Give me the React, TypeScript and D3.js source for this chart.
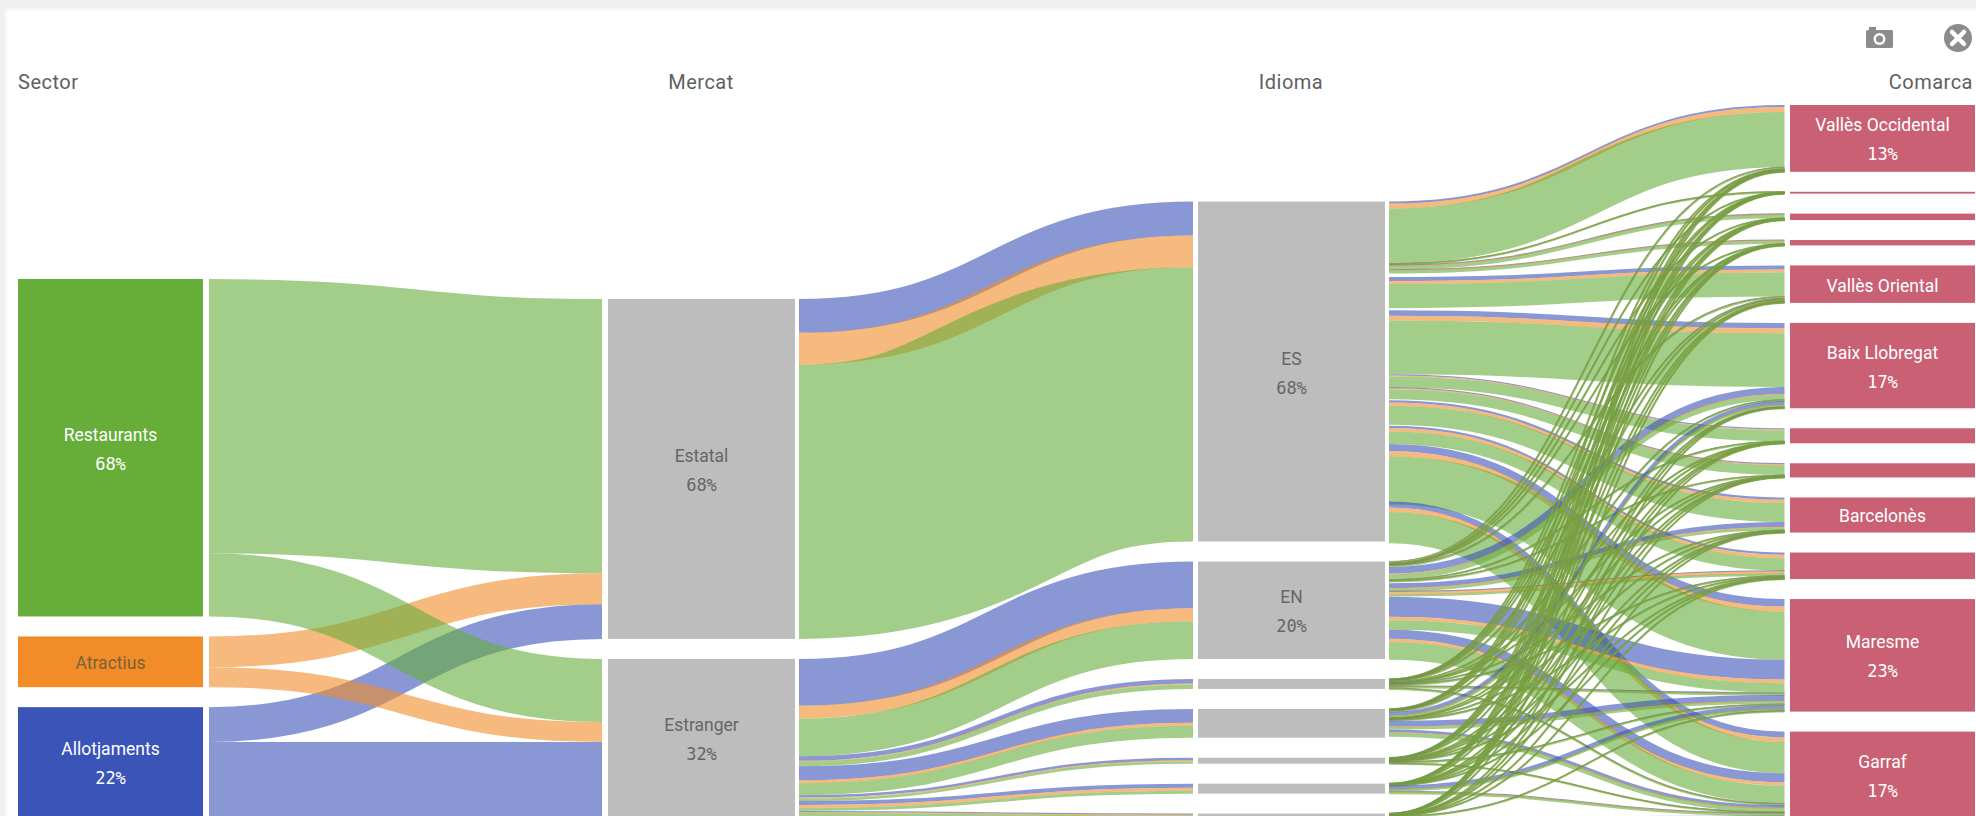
import React from "react";
import * as d3 from "d3";

// ---------- data (shares in % of the total) ----------
const sectors = ["Restaurants", "Atractius", "Allotjaments"];
const sectorPct = ["68%", "", "22%"];
const sectorToEstatal = [55.2, 6.2, 7.0];
const sectorToEstranger = [12.7, 4.0, 15.0];

const markets = ["Estatal", "Estranger"];
const marketPct = ["68%", "32%"];

const languages = ["ES", "EN", "", "", "", "", ""];
const languagePct = ["68%", "20%", "", "", "", "", ""];
const languageMarket = [0, 1, 1, 1, 1, 1, 1];
const langAllotjaments = [6.8, 9.4, 0.9, 2.8, 0.5, 0.8, 0.2];
const langAtractius = [6.4, 2.6, 0.2, 0.6, 0.2, 0.6, 0.2];
const langRestaurants = [55.2, 7.6, 0.9, 2.4, 0.5, 0.6, 0.6];

const comarques = ["Vallès Occidental", "", "", "", "Vallès Oriental", "Baix Llobregat", "", "", "Barcelonès", "", "Maresme", "Garraf"];
const comarcaPct = ["13%", "", "", "", "", "17%", "", "", "", "", "23%", "17%"];

// language -> comarca, one array per sector
const esAllotjaments = [0.4, 0.02, 0.1, 0.06, 0.8, 1.1, 0.24, 0.16, 0.46, 0.44, 1.5, 1.2];
const esAtractius = [1, 0.02, 0.1, 0.14, 0.6, 1, 0.2, 0.24, 0.66, 0.7, 1, 0.9];
const esRestaurants = [11.1, 0.1, 0.74, 0.6, 4.86, 10.8, 2.18, 1.98, 3.84, 2.5, 9.7, 6.3];

const enAllotjaments = [0.06, 0.02, 0.02, 0.02, 0.04, 1.4, 0.04, 0.04, 1, 0.06, 4, 1.8];
const enAtractius = [0.04, 0.02, 0.02, 0.02, 0.04, 0.16, 0.04, 0.04, 0.14, 0.6, 0.74, 0.66];
const enRestaurants = [0.3, 0.02, 0.08, 0.08, 0.3, 1, 0.12, 0.12, 0.5, 0.34, 1.9, 3.6];

const l3Allotjaments = [0.04, 0.01, 0.02, 0.01, 0.08, 0.08, 0.01, 0.02, 0.04, 0.06, 0.16, 0.08];
const l3Atractius = [0.02, 0.01, 0.01, 0.01, 0.04, 0.04, 0.01, 0.02, 0.02, 0.06, 0.08, 0.06];
const l3Restaurants = [0.1, 0.01, 0.05, 0.01, 0.14, 0.12, 0.02, 0.04, 0.08, 0.12, 0.24, 0.18];

const l4Allotjaments = [0.04, 0.01, 0.01, 0.01, 0.06, 0.8, 0.01, 0.02, 0.04, 0.04, 1.2, 0.6];
const l4Atractius = [0.02, 0.01, 0.01, 0.01, 0.04, 0.04, 0.01, 0.02, 0.02, 0.06, 0.06, 0.06];
const l4Restaurants = [0.1, 0.02, 0.04, 0.02, 0.22, 0.4, 0.04, 0.04, 0.1, 0.1, 0.5, 0.8];

const l5Allotjaments = [0.02, 0.01, 0.01, 0.01, 0.04, 0.02, 0.01, 0.01, 0.02, 0.04, 0.1, 0.02];
const l5Atractius = [0.02, 0.01, 0.01, 0.01, 0.02, 0.02, 0.01, 0.01, 0.02, 0.04, 0.04, 0.02];
const l5Restaurants = [0.08, 0.01, 0.02, 0.01, 0.12, 0.06, 0.02, 0.02, 0.04, 0.06, 0.16, 0.08];

const l6Allotjaments = [0.01, 0.01, 0.01, 0.01, 0.01, 0.01, 0.01, 0.01, 0.01, 0.01, 0.8, 0.14];
const l6Atractius = [0.01, 0.01, 0.01, 0.01, 0.01, 0.01, 0.01, 0.01, 0.01, 0.01, 0.06, 0.1];
const l6Restaurants = [0.02, 0.01, 0.01, 0.01, 0.02, 0.02, 0.01, 0.01, 0.02, 0.02, 0.24, 0.36];

const l7Allotjaments = [0.01, 0.01, 0.01, 0.01, 0.02, 0.02, 0.01, 0.01, 0.01, 0.02, 0.04, 0.1];
const l7Atractius = [0.01, 0.01, 0.01, 0.01, 0.02, 0.02, 0.01, 0.01, 0.01, 0.02, 0.04, 0.1];
const l7Restaurants = [0.04, 0.01, 0.01, 0.01, 0.06, 0.06, 0.01, 0.02, 0.02, 0.04, 0.08, 0.2];

// table built from the arrays: [language][sector][comarca], sector order Allotjaments, Atractius, Restaurants
const flows = [
  [esAllotjaments, esAtractius, esRestaurants],
  [enAllotjaments, enAtractius, enRestaurants],
  [l3Allotjaments, l3Atractius, l3Restaurants],
  [l4Allotjaments, l4Atractius, l4Restaurants],
  [l5Allotjaments, l5Atractius, l5Restaurants],
  [l6Allotjaments, l6Atractius, l6Restaurants],
  [l7Allotjaments, l7Atractius, l7Restaurants],
];

// ---------- layout ----------
const W = 1976, H = 816;
const GAP = 20;
const LINK_OPACITY = 0.6;
const h = d3.scaleLinear().domain([0, 100]).range([0, 497]);

const colX = [[18, 203], [608, 795], [1198, 1385], [1790, 1975]];
const linkX = [[209, 602], [799, 1193], [1389, 1784.5]];
const colTop = [279, 299, 201.6, 105];
// small white gaps seen on the left edge of the language -> comarca band, per comarca
const leftPadEs = [0, 0, 0.5, 0, 3.5, 2, 0, 0, 1, 1, 0, -3];
const leftPadEn = [0, 0, 0, 0, 0, 0, 0, 0, 1.5, 0, 0.5, 0];

const BLUE = "#3A54B7", ORANGE = "#F28C28", GREEN = "#66AD3A", GREY = "#BDBDBD", PINK = "#C96074";
const sectorColor = [GREEN, ORANGE, BLUE];
const layerColor = [BLUE, ORANGE, GREEN]; // sublayer order inside a flow
const minStroke = new Map([[BLUE, 1.2], [ORANGE, 1.2], [GREEN, 2.3]]);

type Node = { y: number; h: number; name: string; pct: string };
function stack(sizes: number[], top: number, names: string[], pcts: string[]): Node[] {
  let y = top;
  return sizes.map((v, i) => {
    const n = { y, h: h(v), name: names[i], pct: pcts[i] };
    y += h(v) + GAP;
    return n;
  });
}

const sectorSizes = sectors.map((_, i) => sectorToEstatal[i] + sectorToEstranger[i]);
const marketSizes = [d3.sum(sectorToEstatal), d3.sum(sectorToEstranger)];
const languageSizes = languages.map((_, i) => langAllotjaments[i] + langAtractius[i] + langRestaurants[i]);
const comarcaSizes = comarques.map((_, c) => d3.sum(flows, (f) => f[0][c] + f[1][c] + f[2][c]));

const sectorNodes = stack(sectorSizes, colTop[0], sectors, sectorPct);
const marketNodes = stack(marketSizes, colTop[1], markets, marketPct);
const languageNodes = stack(languageSizes, colTop[2], languages, languagePct);
const comarcaNodes = stack(comarcaSizes, colTop[3], comarques, comarcaPct);

type Link = { x0: number; x1: number; y0: number; y1: number; w: number; color: string };
const links: Link[] = [];

// sector -> market
{
  const left = sectorNodes.map((n) => n.y);
  const right = marketNodes.map((n) => n.y);
  [sectorToEstatal, sectorToEstranger].forEach((vals, m) => {
    vals.forEach((v, s) => {
      const w = h(v);
      links.push({ x0: linkX[0][0], x1: linkX[0][1], y0: left[s], y1: right[m], w, color: sectorColor[s] });
      left[s] += w;
      right[m] += w;
    });
  });
}
// market -> language
{
  const left = marketNodes.map((n) => n.y);
  languages.forEach((_, l) => {
    let r = languageNodes[l].y;
    const m = languageMarket[l];
    [langAllotjaments, langAtractius, langRestaurants].forEach((arr, k) => {
      const w = h(arr[l]);
      links.push({ x0: linkX[1][0], x1: linkX[1][1], y0: left[m], y1: r, w, color: layerColor[k] });
      left[m] += w;
      r += w;
    });
  });
}
// language -> comarca
{
  const right = comarcaNodes.map((n) => n.y);
  flows.forEach((f, l) => {
    let left = languageNodes[l].y;
    comarques.forEach((_, c) => {
      if (l === 0) left += leftPadEs[c];
      if (l === 1) left += leftPadEn[c];
      [0, 1, 2].forEach((k) => {
        const w = h(f[k][c]);
        links.push({ x0: linkX[2][0], x1: linkX[2][1], y0: left, y1: right[c], w, color: layerColor[k] });
        left += w;
        right[c] += w;
      });
    });
  });
}

const thread = d3.linkHorizontal<{ source: [number, number]; target: [number, number] }, [number, number]>();

function NodeColumn({ nodes, col, fill, nameColor, pctColor }: { nodes: Node[]; col: number; fill: (i: number) => string; nameColor: (i: number) => string; pctColor: (i: number) => string }) {
  const [x0, x1] = colX[col];
  const cx = (x0 + x1) / 2;
  return (
    <g>
      {nodes.map((n, i) => {
        const cy = n.y + n.h / 2;
        return (
          <g key={i}>
            <rect x={x0} y={n.y} width={x1 - x0} height={n.h} fill={fill(i)} />
            {n.name && (
              <text x={cx} y={(n.pct ? cy - 14.5 : cy) + 1.5} textAnchor="middle" dominantBaseline="central" fontFamily="Roboto" fontSize={17.5} fill={nameColor(i)}>
                {n.name}
              </text>
            )}
            {n.pct && (
              <text x={cx} y={cy + 16} textAnchor="middle" dominantBaseline="central" fontFamily="'DejaVu Sans Mono'" fontSize={17} fill={pctColor(i)}>
                {n.pct}
              </text>
            )}
          </g>
        );
      })}
    </g>
  );
}

const headerStyle = { fontFamily: "Roboto", fontSize: 20, letterSpacing: 0.5, fill: "#606060" };

export default function App() {
  return (
    <svg width={W} height={H} viewBox={`0 0 ${W} ${H}`} style={{ position: "absolute", left: 0, top: 0, display: "block" }}>
      <defs>
        <filter id="soft" x="-2%" y="-2%" width="104%" height="104%">
          <feGaussianBlur stdDeviation="1.5" />
        </filter>
      </defs>
      <rect width={W} height={H} fill="#f0f0f0" />
      <rect x={6} y={9} width={W + 20} height={H + 20} fill="#ffffff" filter="url(#soft)" />

      <text x={18} y={82} dominantBaseline="central" {...headerStyle}>Sector</text>
      <text x={701} y={82} textAnchor="middle" dominantBaseline="central" {...headerStyle}>Mercat</text>
      <text x={1291} y={82} textAnchor="middle" dominantBaseline="central" {...headerStyle}>Idioma</text>
      <text x={1973} y={82} textAnchor="end" dominantBaseline="central" {...headerStyle}>Comarca</text>

      {/* camera icon */}
      <g fill="#8c8c8c">
        <rect x={1866} y={30} width={27} height={18} rx={1.5} />
        <rect x={1869} y={27} width={7} height={4} />
        <circle cx={1879.5} cy={39} r={6} fill="#ffffff" />
        <circle cx={1879.5} cy={39} r={3.6} />
      </g>
      {/* close icon */}
      <circle cx={1958} cy={38} r={14} fill="#8c8c8c" />
      <path d="M1952 32 L1964 44 M1964 32 L1952 44" stroke="#ffffff" strokeWidth={4.5} strokeLinecap="round" />

      <g fill="none" strokeOpacity={LINK_OPACITY}>
        {links.map((l, i) => (
          <path
            key={i}
            d={thread({ source: [l.x0, l.y0 + l.w / 2], target: [l.x1, l.y1 + l.w / 2] }) as string}
            stroke={l.color}
            strokeWidth={Math.max(l.w, minStroke.get(l.color) as number)}
          />
        ))}
      </g>

      <NodeColumn nodes={sectorNodes} col={0} fill={(i) => sectorColor[i]} nameColor={(i) => (i === 1 ? "#7a6238" : "#ffffff")} pctColor={() => "#ffffff"} />
      <NodeColumn nodes={marketNodes} col={1} fill={() => GREY} nameColor={() => "#666666"} pctColor={() => "#666666"} />
      <NodeColumn nodes={languageNodes} col={2} fill={() => GREY} nameColor={() => "#666666"} pctColor={() => "#666666"} />
      <NodeColumn nodes={comarcaNodes} col={3} fill={() => PINK} nameColor={() => "#ffffff"} pctColor={() => "#ffffff"} />
    </svg>
  );
}
